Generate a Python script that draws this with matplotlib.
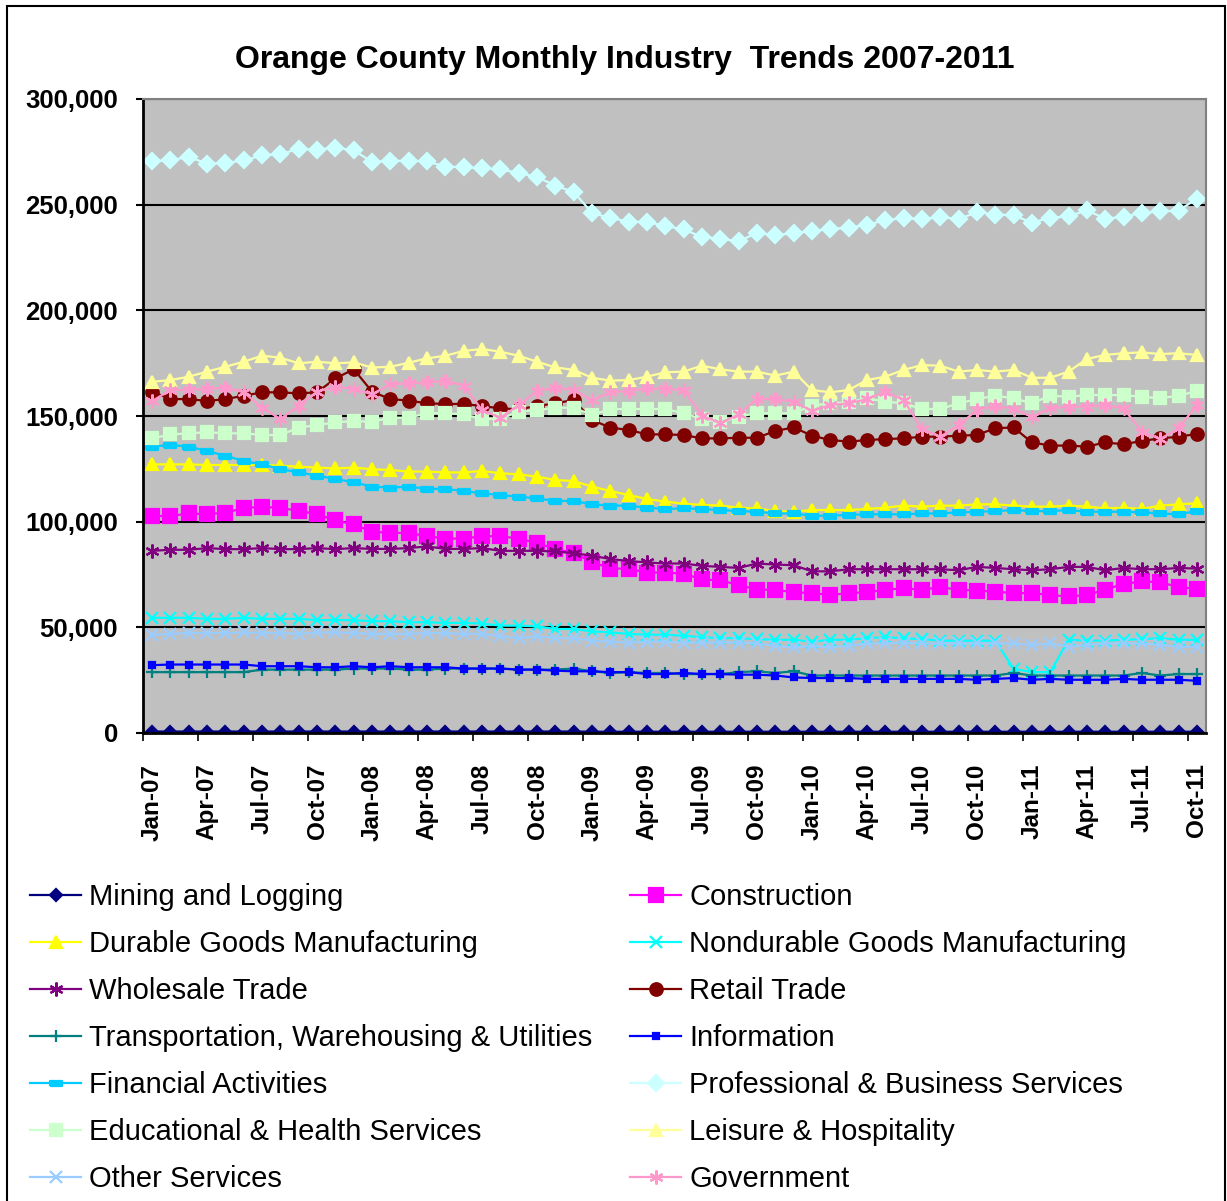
import matplotlib
matplotlib.use('Agg')
import matplotlib.pyplot as plt
from matplotlib.patches import Rectangle
from matplotlib.ticker import FuncFormatter

plt.rcParams['font.family'] = ['Liberation Sans', 'DejaVu Sans']

years = ['07', '08', '09', '10', '11']
month_names = ['Jan', 'Feb', 'Mar', 'Apr', 'May', 'Jun',
               'Jul', 'Aug', 'Sep', 'Oct', 'Nov', 'Dec']
months = [m + '-' + y for y in years for m in month_names][:58]

mining = [700, 700, 700, 700, 700, 700, 700, 700, 700, 700, 700, 700,
          700, 700, 700, 700, 700, 700, 700, 700, 700, 700, 700, 700,
          600, 600, 600, 600, 600, 600, 600, 600, 600, 600, 600, 600,
          600, 600, 600, 600, 600, 600, 600, 600, 600, 600, 600, 600,
          600, 600, 600, 600, 600, 600, 600, 600, 600, 600]
construction = [102700, 102700, 103900, 103500, 104300, 106400, 107100, 106400, 105200, 103500,
                100600, 98700, 95200, 94700, 94700, 93100, 92000, 92000, 93100, 93100,
                92000, 89900, 87100, 85100, 81000, 77800, 77800, 75900, 75900, 75400,
                72700, 72200, 70100, 67800, 67800, 66600, 66200, 65300, 66200, 66600,
                67800, 68500, 67800, 69000, 67800, 67400, 66900, 66200, 66200, 65300,
                64600, 65300, 67800, 70600, 71700, 71400, 69000, 68200]
durable = [127100, 127100, 127100, 126800, 126800, 126800, 126800, 126500, 126000, 125600,
           125200, 125600, 124800, 124400, 123700, 123700, 123300, 123300, 124000, 122900,
           122400, 121300, 119700, 119200, 116600, 114500, 112600, 110700, 109500, 108500,
           107900, 107600, 106600, 106300, 105000, 104700, 105500, 105500, 105500, 106000,
           106600, 107600, 107100, 107600, 107600, 108200, 108200, 107600, 107100, 107100,
           107600, 107100, 106300, 106600, 106000, 107600, 108200, 108700]
nondurable = [54500, 54500, 54500, 54000, 54000, 54500, 54000, 54000, 54000, 53400,
              53400, 53400, 52900, 52900, 52400, 52400, 52100, 52100, 51800, 50800,
              50800, 50500, 49200, 49200, 48100, 47600, 46900, 46500, 46500, 46000,
              45300, 44900, 44900, 44400, 44100, 44100, 43200, 44100, 44100, 44900,
              45300, 44900, 44400, 43700, 43700, 43700, 43700, 30400, 28800, 28800,
              44100, 43700, 43700, 44100, 44400, 44900, 44100, 44100]
wholesale = [86200, 86700, 86700, 87500, 87000, 87000, 87500, 87000, 87000, 87500,
             87000, 87500, 87100, 87100, 87500, 88300, 87100, 87100, 87500, 86200,
             86200, 86200, 85900, 85100, 83900, 82300, 81400, 80700, 80200, 80200,
             79100, 78600, 78100, 80200, 79700, 79400, 76500, 76500, 77500, 77500,
             77500, 77500, 77500, 77500, 77000, 78600, 78100, 77500, 77000, 77500,
             78600, 78600, 77000, 78100, 77500, 77500, 78100, 77800]
retail = [161500, 158000, 158000, 157100, 158000, 159600, 161200, 161200, 160700, 161200,
          167800, 172100, 161500, 158000, 157300, 156000, 155700, 155700, 154700, 153600,
          153200, 154700, 156000, 157600, 148100, 144500, 143400, 141300, 141300, 141000,
          139400, 139400, 139700, 139700, 142900, 144600, 140700, 138600, 137900, 138600,
          139100, 139400, 140200, 140200, 140700, 141000, 144200, 144600, 137500, 136000,
          136000, 135500, 137500, 136600, 138200, 139400, 140200, 141500]
transportation = [28800, 28800, 28800, 28800, 28800, 28800, 30000, 30000, 30000, 30000,
                  30000, 30500, 30500, 30500, 30000, 30000, 30500, 30500, 30500, 30500,
                  30000, 30000, 30000, 30500, 29200, 28400, 28800, 28400, 28400, 27900,
                  27900, 27900, 28800, 29200, 28400, 29200, 27200, 27200, 27200, 27200,
                  27200, 27200, 27200, 27200, 27200, 27200, 27200, 28400, 27200, 27200,
                  27200, 27200, 27200, 27200, 28400, 27200, 27900, 27900]
information = [32100, 32400, 32400, 32400, 32400, 32400, 31600, 31600, 31600, 31100,
               31100, 31600, 31100, 31600, 31100, 31100, 31100, 30500, 30500, 30500,
               30000, 30000, 29500, 29200, 29200, 28800, 28800, 27900, 27900, 28400,
               27900, 27900, 27600, 27600, 27200, 26300, 26000, 26000, 26000, 25600,
               25600, 25600, 25600, 25600, 25600, 25200, 25600, 26000, 25200, 25600,
               25200, 25200, 25200, 25600, 25200, 25200, 25200, 24700]
financial = [135500, 136300, 135500, 133400, 131200, 128700, 127100, 124900, 123300, 121800,
             120200, 118600, 116600, 116100, 116600, 115500, 115500, 114500, 113400, 112600,
             111800, 111000, 109800, 109800, 108200, 107600, 107600, 106600, 106000, 106300,
             106000, 105500, 105000, 104700, 103900, 103900, 102800, 102800, 103200, 103500,
             103500, 103500, 103900, 103900, 104400, 104700, 105000, 105500, 105000, 105000,
             105500, 104700, 104700, 104700, 104400, 103900, 103500, 105000]
professional = [270500, 271000, 272600, 269400, 269700, 271000, 273300, 273800, 276500, 276000,
                277000, 275700, 270200, 270700, 270800, 270500, 268000, 267700, 267200, 266700,
                265000, 263100, 259000, 256000, 246100, 243700, 242000, 241800, 239900, 238300,
                234700, 233900, 232600, 236700, 235500, 236600, 237400, 238600, 239000, 240500,
                242600, 243700, 243100, 244200, 243100, 246500, 245300, 245000, 241500, 243800,
                244500, 247300, 243400, 244200, 246200, 246800, 247200, 252800]
educational = [139400, 141300, 141800, 142300, 141800, 141800, 141000, 141000, 144500, 145700,
               147000, 147600, 147300, 149200, 149200, 151300, 151300, 150800, 148600, 148600,
               152100, 152800, 153900, 153900, 150500, 153300, 153300, 153300, 153300, 151300,
               148600, 147000, 149700, 151300, 151300, 151300, 154900, 156000, 156500, 158400,
               156800, 156000, 153300, 153300, 156000, 158000, 159600, 158400, 156000, 159600,
               159100, 159900, 159900, 159900, 159100, 158400, 159600, 161800]
leisure = [166200, 167000, 168600, 171000, 173300, 175700, 178500, 177600, 174900, 175700,
           174900, 175400, 172900, 173300, 175200, 177300, 178500, 180800, 181700, 180400,
           178500, 175700, 173000, 171800, 168100, 166700, 167000, 168600, 170700, 171000,
           173800, 172100, 171000, 171000, 169100, 171000, 162300, 161200, 162300, 167000,
           168600, 171800, 174100, 173800, 171000, 171800, 171000, 171800, 168100, 168100,
           171000, 177000, 178900, 179700, 180100, 179300, 179700, 178900]
other = [46500, 46900, 47300, 47300, 47300, 47600, 47300, 47300, 46900, 47600,
         47600, 47300, 46900, 46900, 46900, 47300, 47300, 46900, 46900, 45700,
         44900, 45700, 44900, 44900, 43700, 43200, 42800, 43200, 43200, 42800,
         42800, 42800, 42800, 42400, 41200, 40500, 41200, 40500, 41200, 42400,
         42400, 42800, 42400, 42400, 42400, 42400, 42400, 42400, 41600, 42400,
         40800, 41600, 42400, 42400, 42400, 41600, 40800, 40800]
government = [157100, 162300, 162300, 162800, 163400, 161200, 153900, 148600, 154900, 161500,
              163900, 162800, 160300, 165000, 165500, 165900, 166600, 164400, 152800, 149200,
              155200, 161800, 163400, 162300, 157600, 161200, 161800, 163100, 162800, 162300,
              150200, 146500, 150800, 158000, 158000, 156800, 152400, 155200, 156000, 158000,
              161500, 157600, 143800, 140200, 145700, 152800, 154900, 153300, 149700, 153600,
              154400, 154400, 155200, 153600, 142600, 139100, 144200, 155200]

names = ['Mining and Logging', 'Construction', 'Durable Goods Manufacturing',
         'Nondurable Goods Manufacturing', 'Wholesale Trade', 'Retail Trade',
         'Transportation, Warehousing & Utilities', 'Information', 'Financial Activities',
         'Professional & Business Services', 'Educational & Health Services',
         'Leisure & Hospitality', 'Other Services', 'Government']
values = [mining, construction, durable, nondurable, wholesale, retail, transportation,
          information, financial, professional, educational, leisure, other, government]
colors = ['#000080', '#FF00FF', '#FFFF00', '#00FFFF', '#800080', '#800000', '#008080',
          '#0000FF', '#00CCFF', '#CCFFFF', '#CCFFCC', '#FFFF99', '#99CCFF', '#FF99CC']

star = (6, 2, 0)
dash = [(-1, -0.45), (1, -0.45), (1, 0.45), (-1, 0.45), (-1, -0.45)]
markers = ['D', 's', '^', 'x', star, 'o', '+', 's', dash, 'D', 's', '^', 'x', star]
sizes = [6, 10, 9, 8, 10, 9, 9, 4.5, 8, 8, 9, 9, 9, 10]

fig = plt.figure(figsize=(12.27, 12.01), dpi=100)
ax = fig.add_axes([143 / 1227, 1 - 733 / 1201, (1206 - 143) / 1227, (733 - 99) / 1201])
ax.set_facecolor('#C0C0C0')

x = list(range(len(months)))
for name, vals, c, m, ms in zip(names, values, colors, markers, sizes):
    ax.plot(x, vals, color=c, lw=1.6, marker=m, markersize=ms,
            mfc=c, mec=c, mew=1.6, label=name)

ax.set_xlim(-0.5, 57.5)
ax.set_ylim(0, 300000)
ax.set_yticks(range(0, 300001, 50000))
ax.yaxis.set_major_formatter(FuncFormatter(lambda v, p: f'{int(v):,}'))
ax.yaxis.grid(True, color='black', lw=1.5)
ax.set_axisbelow(True)
ax.tick_params(axis='y', length=5, width=1.5, pad=13, labelsize=18.5)
for lbl in ax.get_yticklabels():
    lbl.set_fontweight('bold')

ax.set_xticks([i - 0.5 for i in range(0, 58, 3)])
ax.set_xticklabels([])
ax.set_xticks(list(range(0, 58, 3)), minor=True)
ax.set_xticklabels(months[0::3], minor=True, rotation=90, fontsize=17.5, fontweight='bold')
ax.tick_params(axis='x', which='major', length=6, width=1.2)
ax.tick_params(axis='x', which='minor', length=0, pad=22)

ax.spines['left'].set_linewidth(2)
ax.spines['bottom'].set_linewidth(2)
for s in ['top', 'right']:
    ax.spines[s].set_color('#808080')
    ax.spines[s].set_linewidth(1.5)

fig.text(625 / 1227, 1 - 60 / 1201, 'Orange County Monthly Industry  Trends 2007-2011',
         ha='center', va='center', fontsize=23, fontweight='bold')

handles, labels = ax.get_legend_handles_labels()
leg_kw = dict(loc='upper left', frameon=False, fontsize=21, handlelength=1.75,
              handletextpad=0.28, labelspacing=0.65, borderpad=0, borderaxespad=0)
fig.legend(handles[0::2], labels[0::2], bbox_to_anchor=(30 / 1227, 1 - 883 / 1201), **leg_kw)
fig.legend(handles[1::2], labels[1::2], bbox_to_anchor=(630 / 1227, 1 - 883 / 1201), **leg_kw)

# outer chart border, bottom edge falls outside the picture
fig.add_artist(Rectangle((7 / 1227, -0.02), (1225 - 7) / 1227, 1.02 - 6 / 1201,
                         transform=fig.transFigure, fill=False, ec='black', lw=1.5))

fig.savefig('out.png', dpi=100)
